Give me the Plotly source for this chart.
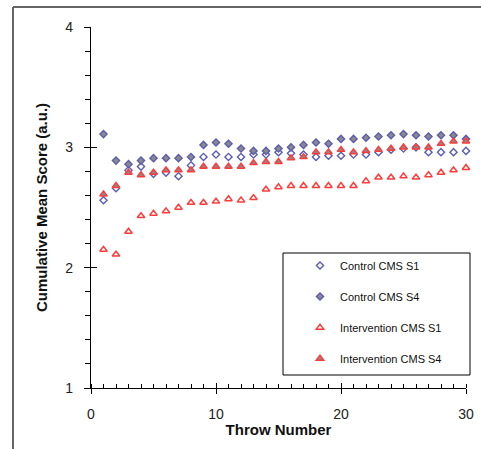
import plotly.graph_objects as go

throws = list(range(1, 31))
control_s1 = [2.56, 2.66, 2.81, 2.84, 2.78, 2.79, 2.76, 2.85, 2.92, 2.94,
              2.92, 2.92, 2.94, 2.94, 2.96, 2.95, 2.94, 2.92, 2.93, 2.93,
              2.94, 2.94, 2.96, 2.98, 2.99, 3.00, 2.96, 2.96, 2.96, 2.97]
control_s4 = [3.11, 2.89, 2.86, 2.89, 2.91, 2.91, 2.91, 2.92, 3.02, 3.04,
              3.03, 2.99, 2.97, 2.97, 2.99, 3.00, 3.02, 3.04, 3.03, 3.07,
              3.07, 3.08, 3.09, 3.10, 3.11, 3.10, 3.09, 3.10, 3.10, 3.07]
interv_s1 = [2.15, 2.11, 2.30, 2.43, 2.45, 2.47, 2.50, 2.54, 2.54, 2.55,
             2.57, 2.56, 2.58, 2.65, 2.67, 2.68, 2.68, 2.68, 2.68, 2.68,
             2.68, 2.72, 2.75, 2.75, 2.76, 2.75, 2.77, 2.79, 2.81, 2.83]
interv_s4 = [2.61, 2.68, 2.79, 2.77, 2.79, 2.81, 2.81, 2.81, 2.84, 2.84,
             2.84, 2.84, 2.87, 2.88, 2.88, 2.91, 2.92, 2.96, 2.96, 2.98,
             2.96, 2.97, 2.98, 2.99, 3.00, 3.00, 3.00, 3.03, 3.05, 3.05]
series_names = ["Control CMS S1", "Control CMS S4", "Intervention CMS S1", "Intervention CMS S4"]

BLUE = "#5c5cb4"
RED = "#ff3c3c"
GRAY = "#8a8a8a"
FONT = "Liberation Sans, Arial, sans-serif"

styles = [
    dict(symbol="diamond-open", size=5.5, color=BLUE, line=dict(width=1.4, color=BLUE)),
    dict(symbol="diamond", size=5.5, color=GRAY, line=dict(width=1.4, color=BLUE)),
    dict(symbol="triangle-up-open", size=6.5, color=RED, line=dict(width=1.5, color=RED)),
    dict(symbol="triangle-up", size=6.5, color=GRAY, line=dict(width=1.5, color=RED)),
]

fig = go.Figure()
for name, ys, st in zip(series_names, [control_s1, control_s4, interv_s1, interv_s4], styles):
    fig.add_trace(go.Scatter(x=throws, y=ys, mode="markers", name=name,
                             legendgroup=name, marker=st, cliponaxis=False))

W, H = 481, 449
L, R, T, B = 91, 15, 27, 61
pw, ph = W - L - R, H - T - B

def px(xp):
    return (xp - L) / pw

def py(yp):
    return (H - B - yp) / ph

fig.update_layout(
    width=W, height=H,
    margin=dict(l=L, r=R, t=T, b=B, autoexpand=False),
    paper_bgcolor="white", plot_bgcolor="white",
    font=dict(family=FONT, size=14, color="#222"),
    showlegend=True,
    legend=dict(x=px(300), y=py(251), xanchor="left", yanchor="top",
                bgcolor="rgba(0,0,0,0)", borderwidth=0,
                font=dict(family=FONT, size=11, color="#111"),
                tracegroupgap=12, itemwidth=30),
    xaxis=dict(range=[0, 30], dtick=10, tick0=0, showgrid=False, zeroline=False,
               showline=True, linecolor="black", linewidth=1.2, automargin=False,
               ticks="outside", ticklen=5, tickwidth=1.2, tickcolor="black",
               ticklabelstandoff=8,
               minor=dict(dtick=1, ticks="inside", ticklen=4, tickwidth=1, tickcolor="black", showgrid=False),
               title=dict(text="<b>Throw Number</b>", font=dict(family=FONT, size=15, color="#111"), standoff=3)),
    yaxis=dict(range=[1, 4], dtick=1, tick0=1, showgrid=False, zeroline=False,
               showline=True, linecolor="black", linewidth=1.2, automargin=False,
               ticks="outside", ticklen=6, tickwidth=1.2, tickcolor="black",
               ticklabelstandoff=8,
               minor=dict(dtick=0.2, ticks="outside", ticklen=5, tickwidth=1, tickcolor="black", showgrid=False),
               title=dict(text="<b>Cumulative Mean Score (a.u.)</b>", font=dict(family=FONT, size=15, color="#111"), standoff=14)),
    xaxis2=dict(range=[0, 30], dtick=10, tick0=0, overlaying="x", anchor="y", side="bottom",
                showgrid=False, zeroline=False, showline=False, showticklabels=False, automargin=False,
                ticks="inside", ticklen=5, tickwidth=1.2, tickcolor="black"),
    yaxis2=dict(range=[1, 4], dtick=1, tick0=1, overlaying="y", anchor="x", side="left",
                showgrid=False, zeroline=False, showline=False, showticklabels=False, automargin=False,
                ticks="inside", ticklen=6, tickwidth=1.2, tickcolor="black"),
    shapes=[
        dict(type="rect", xref="paper", yref="paper", x0=px(283), x1=px(470), y0=py(375), y1=py(253),
             line=dict(color="black", width=1), fillcolor="rgba(0,0,0,0)", layer="above"),
        dict(type="line", xref="paper", yref="paper", x0=px(13), x1=px(W + 2), y0=py(7), y1=py(7),
             line=dict(color="#666", width=2)),
        dict(type="line", xref="paper", yref="paper", x0=px(13), x1=px(13), y0=py(7), y1=py(H + 2),
             line=dict(color="#666", width=2)),
    ],
)
# invisible helper trace so the overlay tick axes are drawn
fig.add_trace(go.Scatter(x=[None], y=[None], xaxis="x2", yaxis="y2", showlegend=False, hoverinfo="skip"))

fig.write_html("out.html", config={"displayModeBar": False},
               post_script="document.body.style.margin='0';document.body.style.overflow='hidden';")
